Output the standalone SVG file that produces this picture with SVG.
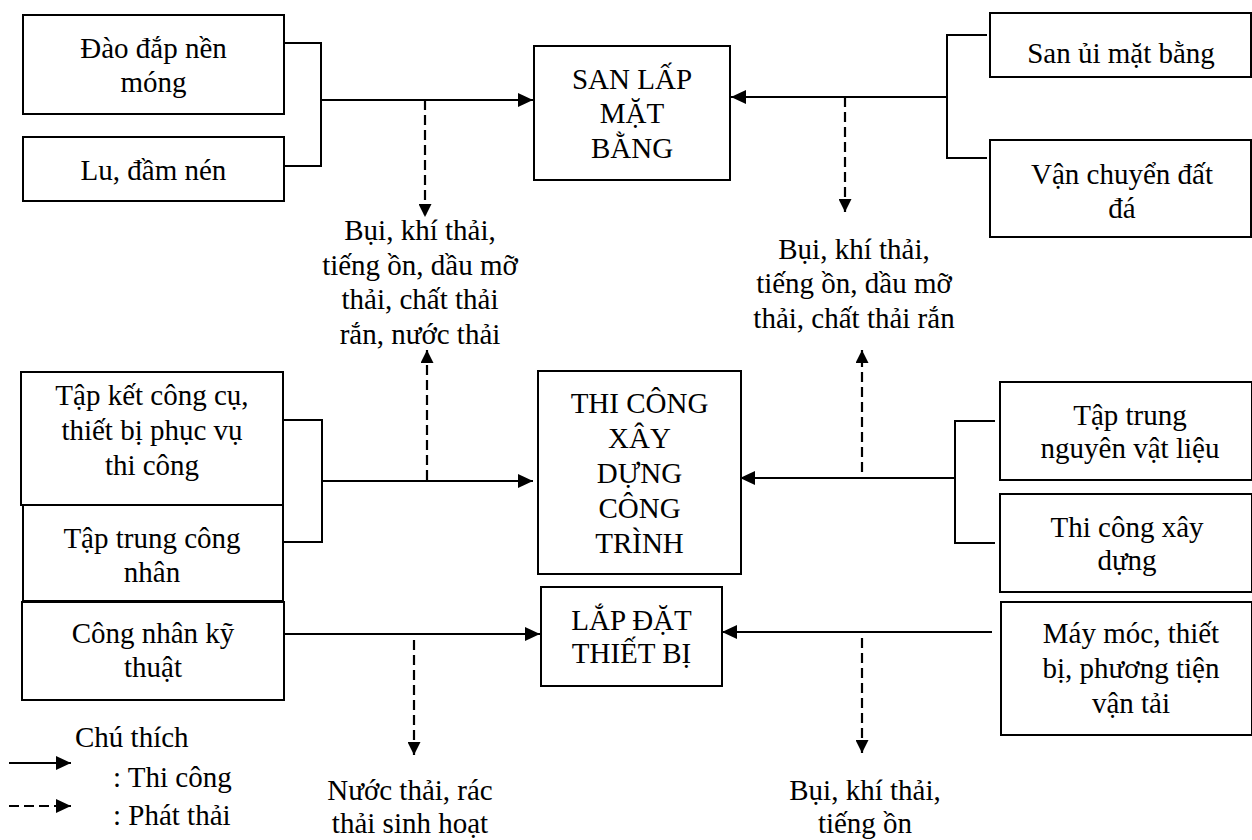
<svg xmlns="http://www.w3.org/2000/svg" width="1252" height="840" viewBox="0 0 1252 840">
  <style>
    .box { fill: #fff; stroke: #000; stroke-width: 2; }
    .t { font-family: "Liberation Serif", "Times New Roman", serif; font-size: 29px; fill: #000; text-anchor: middle; }
    .tl { font-family: "Liberation Serif", "Times New Roman", serif; font-size: 29px; fill: #000; }
    .flow { fill: none; stroke: #000; stroke-width: 2; }
    .emit { fill: none; stroke: #000; stroke-width: 2.2; stroke-dasharray: 10 5; }
  </style>
  <defs>
    <marker id="arrowSolid" markerUnits="userSpaceOnUse" viewBox="0 0 15 14" refX="15" refY="7" markerWidth="15" markerHeight="14" orient="auto">
      <path d="M0,0 L15,7 L0,14 z" fill="#000"/>
    </marker>
    <marker id="arrowDash" markerUnits="userSpaceOnUse" viewBox="0 0 13 13" refX="13" refY="6.5" markerWidth="13" markerHeight="13" orient="auto">
      <path d="M0,0 L13,6.5 L0,13 z" fill="#000"/>
    </marker>
  </defs>

  <rect width="1252" height="840" fill="#fff"/>

  <!-- connectors -->
  <g id="connectors">
    <!-- site levelling -->
    <polyline class="flow" points="284,43 321,43 321,166 284,166"/>
    <line class="flow" x1="321" y1="100" x2="533" y2="100" marker-end="url(#arrowSolid)"/>
    <line class="emit" x1="425" y1="100" x2="425" y2="217" marker-end="url(#arrowDash)"/>
    <polyline class="flow" points="987,35 947,35 947,158 987,158"/>
    <line class="flow" x1="947" y1="97" x2="731" y2="97" marker-end="url(#arrowSolid)"/>
    <line class="emit" x1="845" y1="97" x2="845" y2="212" marker-end="url(#arrowDash)"/>

    <!-- construction works -->
    <polyline class="flow" points="283,420 322,420 322,542 283,542"/>
    <line class="flow" x1="322" y1="481" x2="533" y2="481" marker-end="url(#arrowSolid)"/>
    <line class="emit" x1="427" y1="480" x2="427" y2="350" marker-end="url(#arrowDash)"/>
    <polyline class="flow" points="995,421 955,421 955,543 995,543"/>
    <line class="flow" x1="955" y1="478" x2="740" y2="478" marker-end="url(#arrowSolid)"/>
    <line class="emit" x1="862" y1="472" x2="862" y2="350" marker-end="url(#arrowDash)"/>

    <!-- equipment installation -->
    <line class="flow" x1="284" y1="634" x2="540" y2="634" marker-end="url(#arrowSolid)"/>
    <line class="emit" x1="414" y1="640" x2="414" y2="755" marker-end="url(#arrowDash)"/>
    <line class="flow" x1="992" y1="632" x2="722" y2="632" marker-end="url(#arrowSolid)"/>
    <line class="emit" x1="862" y1="638" x2="862" y2="753" marker-end="url(#arrowDash)"/>
  </g>

  <!-- left inputs -->
  <g id="dao-dap">
    <rect class="box" x="23" y="15" width="261" height="99"/>
    <text class="t" x="153.5" y="58">Đào đắp nền</text>
    <text class="t" x="153.5" y="92">móng</text>
  </g>
  <g id="lu-dam">
    <rect class="box" x="23" y="137" width="261" height="64"/>
    <text class="t" x="153.5" y="180">Lu, đầm nén</text>
  </g>
  <g id="tap-ket">
    <rect class="box" x="21" y="372" width="262" height="133"/>
    <text class="t" x="152" y="405">Tập kết công cụ,</text>
    <text class="t" x="152" y="440">thiết bị phục vụ</text>
    <text class="t" x="152" y="475">thi công</text>
  </g>
  <g id="tap-trung-cong-nhan">
    <rect class="box" x="23" y="505" width="260" height="96"/>
    <text class="t" x="152" y="548">Tập trung công</text>
    <text class="t" x="152" y="582">nhân</text>
  </g>
  <g id="cong-nhan-ky-thuat">
    <rect class="box" x="22" y="602" width="262" height="98"/>
    <text class="t" x="153" y="643">Công nhân kỹ</text>
    <text class="t" x="153" y="677">thuật</text>
  </g>

  <!-- central stages -->
  <g id="san-lap">
    <rect class="box" x="534" y="46" width="196" height="134"/>
    <text class="t" x="632" y="89">SAN LẤP</text>
    <text class="t" x="632" y="123">MẶT</text>
    <text class="t" x="632" y="158">BẰNG</text>
  </g>
  <g id="thi-cong">
    <rect class="box" x="538" y="371" width="203" height="203"/>
    <text class="t" x="639.5" y="413">THI CÔNG</text>
    <text class="t" x="639.5" y="448">XÂY</text>
    <text class="t" x="639.5" y="483">DỰNG</text>
    <text class="t" x="639.5" y="518">CÔNG</text>
    <text class="t" x="639.5" y="553">TRÌNH</text>
  </g>
  <g id="lap-dat">
    <rect class="box" x="541" y="587" width="181" height="99"/>
    <text class="t" x="631.5" y="630">LẮP ĐẶT</text>
    <text class="t" x="631.5" y="663">THIẾT BỊ</text>
  </g>

  <!-- right inputs -->
  <g id="san-ui">
    <rect class="box" x="990" y="13" width="261" height="64"/>
    <text class="t" x="1121" y="63">San ủi mặt bằng</text>
  </g>
  <g id="van-chuyen">
    <rect class="box" x="990" y="140" width="261" height="97"/>
    <text class="t" x="1122" y="184">Vận chuyển đất</text>
    <text class="t" x="1122" y="218">đá</text>
  </g>
  <g id="nguyen-vat-lieu">
    <rect class="box" x="1000" y="382" width="252" height="98"/>
    <text class="t" x="1130" y="425">Tập trung</text>
    <text class="t" x="1130" y="458">nguyên vật liệu</text>
  </g>
  <g id="thi-cong-xay-dung">
    <rect class="box" x="1000" y="494" width="252" height="98"/>
    <text class="t" x="1127" y="537">Thi công xây</text>
    <text class="t" x="1127" y="570">dựng</text>
  </g>
  <g id="may-moc">
    <rect class="box" x="1001" y="602" width="251" height="133"/>
    <text class="t" x="1131" y="643">Máy móc, thiết</text>
    <text class="t" x="1131" y="678">bị, phương tiện</text>
    <text class="t" x="1131" y="713">vận tải</text>
  </g>

  <!-- emissions -->
  <g id="emit-san-lap-left">
    <text class="t" x="420" y="240">Bụi, khí thải,</text>
    <text class="t" x="420" y="274.5">tiếng ồn, dầu mỡ</text>
    <text class="t" x="420" y="309">thải, chất thải</text>
    <text class="t" x="420" y="343.5">rắn, nước thải</text>
  </g>
  <g id="emit-san-lap-right">
    <text class="t" x="854" y="259">Bụi, khí thải,</text>
    <text class="t" x="854" y="293">tiếng ồn, dầu mỡ</text>
    <text class="t" x="854" y="328">thải, chất thải rắn</text>
  </g>
  <g id="emit-lap-dat-left">
    <text class="t" x="410" y="800">Nước thải, rác</text>
    <text class="t" x="410" y="833">thải sinh hoạt</text>
  </g>
  <g id="emit-lap-dat-right">
    <text class="t" x="865" y="800">Bụi, khí thải,</text>
    <text class="t" x="865" y="833">tiếng ồn</text>
  </g>

  <!-- legend -->
  <g id="legend">
    <text class="tl" x="75" y="747">Chú thích</text>
    <line class="flow" x1="9" y1="763" x2="71" y2="763" marker-end="url(#arrowSolid)"/>
    <text class="tl" x="113" y="787">: Thi công</text>
    <line class="emit" x1="9" y1="806" x2="71" y2="806" marker-end="url(#arrowSolid)"/>
    <text class="tl" x="113" y="825">: Phát thải</text>
  </g>
</svg>
